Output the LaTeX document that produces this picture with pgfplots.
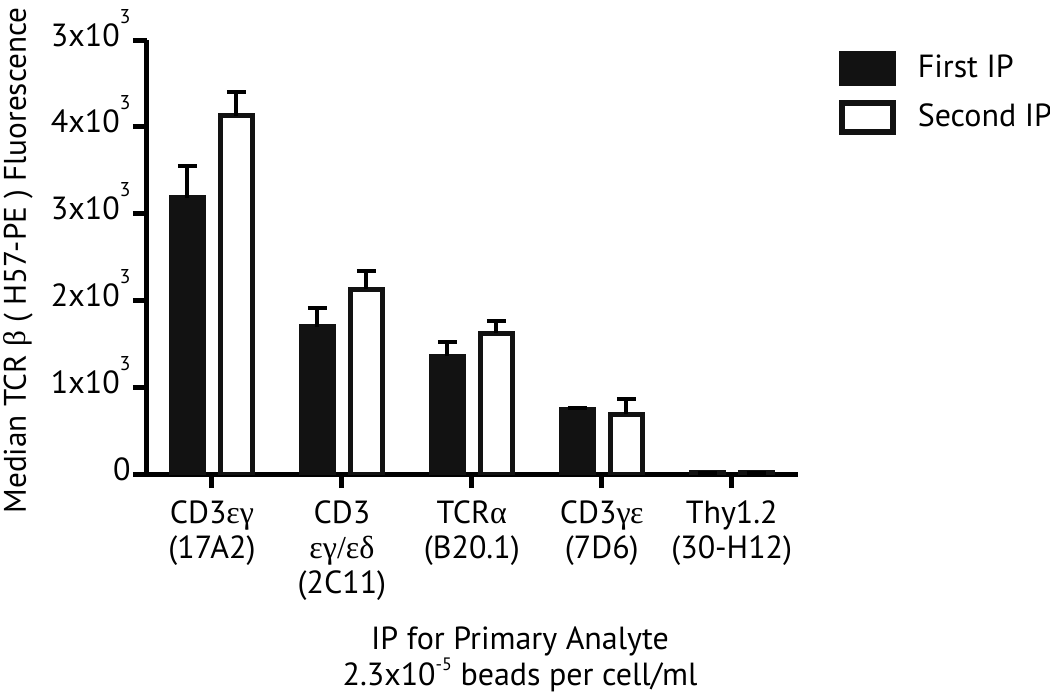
\documentclass[border=0pt]{standalone}
\usepackage{fontspec}
\setmainfont{PT Sans}
\newfontfamily\grk{Liberation Serif}
\usepackage{pgfplots}
\usepackage{pgfplotstable}
\pgfplotsset{compat=1.18}
\newcommand{\sx}[1]{\raisebox{11.5pt}{\fontsize{10}{10}\selectfont #1}}
\pgfplotstableread{
x y e
0 3185 367
1 1696 220
2 1354 163
3 740 15
4 15 0
}\first
\pgfplotstableread{
x y e
0 4127 273
1 2129 213
2 1619 147
3 689 172
4 15 0
}\second
\begin{document}
\fontsize{16}{18}\selectfont
\begin{tikzpicture}[font=\fontsize{16}{18}\selectfont]
\useasboundingbox (0,0) rectangle (525pt,346.5pt);
\begin{axis}[
  at={(73.5pt,109.5pt)}, anchor=south west,
  scale only axis, width=325.5pt, height=217pt,
  xmin=-0.5, xmax=4.51, ymin=0, ymax=5000,
  axis lines*=left,
  axis line style={line width=2.5pt, -},
  every tick/.style={black, line width=2.5pt},
  major tick length=7pt,
  tick align=outside,
  xtick={0,1,2,3,4},
  xticklabels={{CD3{\grk εγ}\\(17A2)},{CD3\\{\grk εγ/εδ}\\(2C11)},{TCR{\grk α}\\(B20.1)},{CD3{\grk γε}\\(7D6)},{Thy1.2\\(30-H12)}},
  xticklabel style={align=center, anchor=north, font=\fontsize{16}{17.5}\selectfont, inner sep=2pt, yshift=-4pt},
  ytick={0,1000,2000,3000,4000,5000},
  yticklabels={0\hspace{4pt},1x10\sx{3},2x10\sx{3},3x10\sx{3},4x10\sx{3},3x10\sx{3}},
  yticklabel style={anchor=base east, inner sep=1pt, yshift=-3pt, font=\fontsize{16}{18}\selectfont},
  ylabel={Median TCR {\grk β} ( H57-PE ) Fluorescence},
  ylabel style={at={(axis description cs:-0.198,0.492)}, rotate=0, anchor=center, font=\fontsize{15.6}{18}\selectfont},
  xlabel={IP for Primary Analyte\\2.3x10\raisebox{7.5pt}{\fontsize{9}{9}\selectfont -5} beads per cell/ml},
  xlabel style={at={(axis description cs:0.573,-0.327)}, anchor=north, align=center, font=\fontsize{16}{18}\selectfont},
  ybar,
  bar width=16pt,
  legend style={at={(axis description cs:1.062,0.975)}, anchor=north west, draw=none, fill=none,
    row sep=7pt, column sep=10pt, inner sep=0pt, nodes={inner sep=1pt, font=\fontsize{16}{18}\selectfont}},
  legend cell align=left,
  legend image code/.code={\draw[#1, line width=3pt] (0pt,-7.25pt) rectangle (25.5pt,7.25pt);},
  error bars/y dir=plus,
  error bars/y explicit,
  error bars/error bar style={line width=2pt, black},
  error bars/error mark options={rotate=90, line width=2pt, black, mark size=4.75pt},
]
\addplot[fill=black!93, draw=black!93, line width=2.5pt, bar shift=-12.25pt] table[x=x, y=y, y error=e] {\first};
\addplot[fill=white, draw=black!93, line width=2.5pt, bar shift=12.25pt] table[x=x, y=y, y error=e] {\second};
\legend{First IP, Second IP}
\end{axis}
\end{tikzpicture}
\end{document}
